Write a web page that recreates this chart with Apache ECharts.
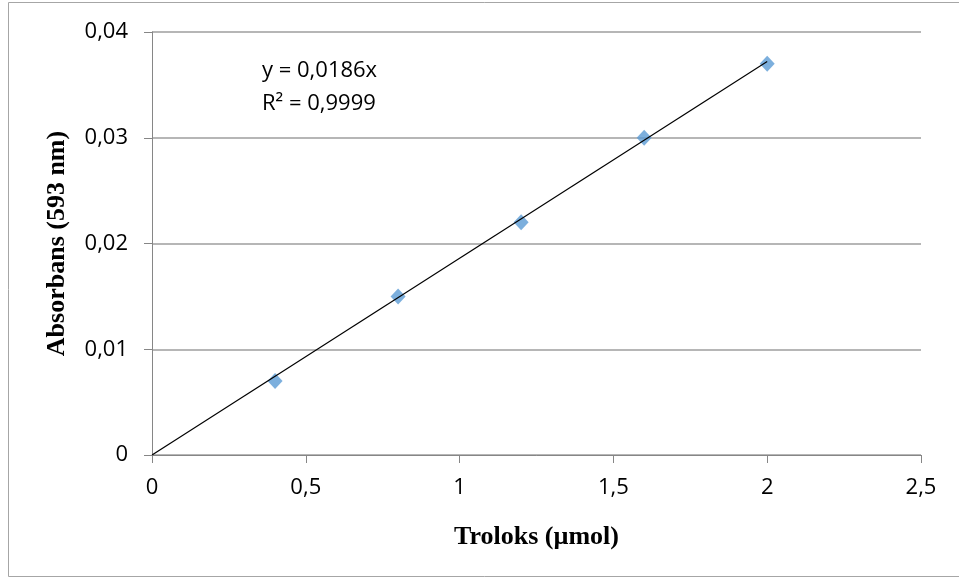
<!DOCTYPE html>
<html>
<head>
<meta charset="utf-8">
<script src="https://cdn.jsdelivr.net/npm/echarts@6/dist/echarts.min.js"></script>
<style>
    html, body { margin: 0; padding: 0; background: #fff; }
    #chart { width: 959px; height: 578px; }
</style>
</head>
<body>
<div id="chart"></div>
<script>
// data
var troloks = [0.4, 0.8, 1.2, 1.6, 2.0];
var absorbans = [0.007, 0.015, 0.022, 0.030, 0.037];
var trendX = [0, 2.0];
var slope = 0.0186;
var trendY = trendX.map(function (x) { return x * slope; }); // y = 0.0186x from the label
var equationLines = ['y = 0,0186x', 'R² = 0,9999'];

var myChart = echarts.init(document.getElementById('chart'));

function comma(v) {
    return String(v).replace('.', ',');
}

var option = {
    animation: false,
    grid: { left: 152, right: 38, top: 32, bottom: 123 },
    graphic: [
        {
            type: 'rect',
            shape: { x: 8.5, y: 2.5, width: 980, height: 574 },
            style: { fill: null, stroke: '#a6a6a6', lineWidth: 1 },
            silent: true
        },
        {
            type: 'text',
            left: 262,
            top: 54,
            style: {
                text: equationLines.join('\n'),
                font: '22px "Open Sans", sans-serif',
                lineHeight: 33,
                fill: '#000'
            }
        }
    ],
    xAxis: {
        type: 'value',
        min: 0,
        max: 2.5,
        interval: 0.5,
        name: 'Troloks (µmol)',
        nameLocation: 'middle',
        nameGap: 69,
        nameTextStyle: {
            fontFamily: 'Liberation Serif',
            fontWeight: 'bold',
            fontSize: 26,
            color: '#000'
        },
        axisLine: { show: true, lineStyle: { color: '#868686', width: 1 } },
        axisTick: { show: true, inside: false, length: 8, lineStyle: { color: '#868686' } },
        axisLabel: {
            margin: 22,
            fontFamily: 'Open Sans',
            fontSize: 22,
            color: '#000',
            formatter: comma
        },
        splitLine: { show: false }
    },
    yAxis: {
        type: 'value',
        min: 0,
        max: 0.04,
        interval: 0.01,
        name: 'Absorbans (593 nm)',
        nameLocation: 'middle',
        nameGap: 82,
        nameRotate: 90,
        nameTextStyle: {
            fontFamily: 'Liberation Serif',
            fontWeight: 'bold',
            fontSize: 26,
            color: '#000'
        },
        axisLine: { show: true, lineStyle: { color: '#868686', width: 1 } },
        axisTick: { show: true, length: 8, lineStyle: { color: '#868686' } },
        axisLabel: {
            margin: 24,
            fontFamily: 'Open Sans',
            fontSize: 22,
            color: '#000',
            formatter: comma
        },
        splitLine: { show: true, lineStyle: { color: '#9e9e9e', width: 1.5 } }
    },
    series: [
        {
            type: 'line',
            name: 'trend',
            data: trendX.map(function (x, i) { return [x, trendY[i]]; }),
            showSymbol: false,
            symbol: 'none',
            lineStyle: { color: '#000', width: 1.2 },
            z: 3
        },
        {
            type: 'scatter',
            name: 'Absorbans',
            data: troloks.map(function (x, i) { return [x, absorbans[i]]; }),
            symbol: 'diamond',
            symbolSize: [15, 16],
            itemStyle: { color: '#5b9bd5' },
            z: 2
        }
    ]
};

myChart.setOption(option);
</script>
</body>
</html>
